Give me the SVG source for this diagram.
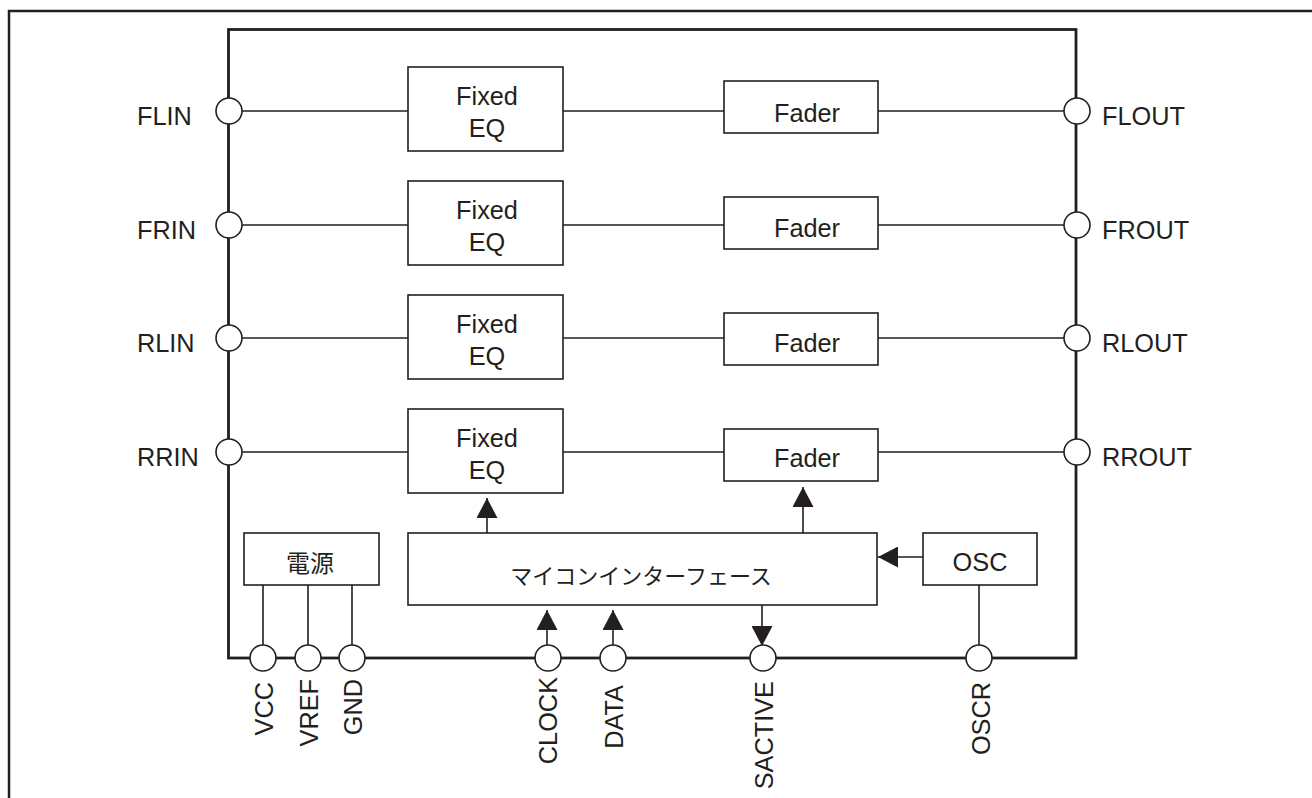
<svg xmlns="http://www.w3.org/2000/svg" width="1312" height="798" viewBox="0 0 1312 798">
<style>
.frame{fill:none;stroke:#231f20;stroke-width:2.5}
.chip{fill:none;stroke:#231f20;stroke-width:2.8}
.box{fill:#fff;stroke:#231f20;stroke-width:1.6}
.pin{fill:#fff;stroke:#231f20;stroke-width:1.6}
.wire{fill:none;stroke:#231f20;stroke-width:1.6}
.t{font-family:"Liberation Sans",Arial,sans-serif;font-size:25.3px;fill:#231f20}
.c{text-anchor:middle}
.e{text-anchor:end}
.j{font-family:"Noto Sans CJK JP","Noto Sans CJK SC",sans-serif;fill:#231f20;text-anchor:middle}
</style>
<defs>
<marker id="arr" viewBox="0 0 20 21" refX="20" refY="10.5" markerWidth="20" markerHeight="21" markerUnits="userSpaceOnUse" orient="auto">
<path d="M0,0 L20,10.5 L0,21 Z" fill="#231f20"/>
</marker>
</defs>
<rect width="1312" height="798" fill="#fff"/>
<path class="frame" d="M9,798 V11 H1312"/>
<g id="chip"><rect class="chip" x="228.5" y="29.5" width="847.5" height="628.5"/></g>

<g id="connectors">
<path class="wire" d="M229,111 H408 M563,111 H724 M878,111 H1077"/>
<path class="wire" d="M229,225 H408 M563,225 H724 M878,225 H1077"/>
<path class="wire" d="M229,338 H408 M563,338 H724 M878,338 H1077"/>
<path class="wire" d="M229,452 H408 M563,452 H724 M878,452 H1077"/>
<path class="wire" d="M263,585 V645 M308,585 V645 M352,585 V645 M979,585 V645"/>
<path class="wire" d="M487,533 V498" marker-end="url(#arr)"/>
<path class="wire" d="M803,533 V487" marker-end="url(#arr)"/>
<path class="wire" d="M923,557 H878" marker-end="url(#arr)"/>
<path class="wire" d="M547,645 V610" marker-end="url(#arr)"/>
<path class="wire" d="M613,645 V610" marker-end="url(#arr)"/>
<path class="wire" d="M762,605 V646" marker-end="url(#arr)"/>
</g>

<g id="eq1"><rect class="box" x="408" y="67" width="155" height="84"/><text class="t c" x="487" y="105">Fixed</text><text class="t c" x="487" y="137">EQ</text></g>
<g id="eq2"><rect class="box" x="408" y="181" width="155" height="84"/><text class="t c" x="487" y="219">Fixed</text><text class="t c" x="487" y="251">EQ</text></g>
<g id="eq3"><rect class="box" x="408" y="295" width="155" height="84"/><text class="t c" x="487" y="333">Fixed</text><text class="t c" x="487" y="365">EQ</text></g>
<g id="eq4"><rect class="box" x="408" y="409" width="155" height="84"/><text class="t c" x="487" y="447">Fixed</text><text class="t c" x="487" y="479">EQ</text></g>

<g id="fader1"><rect class="box" x="724" y="81" width="154" height="52"/><text class="t c" x="807" y="122">Fader</text></g>
<g id="fader2"><rect class="box" x="724" y="197" width="154" height="52"/><text class="t c" x="807" y="237">Fader</text></g>
<g id="fader3"><rect class="box" x="724" y="313" width="154" height="52"/><text class="t c" x="807" y="352">Fader</text></g>
<g id="fader4"><rect class="box" x="724" y="429" width="154" height="52"/><text class="t c" x="807" y="467">Fader</text></g>

<g id="power"><rect class="box" x="244" y="533" width="135" height="52"/><text class="j" x="310" y="572" font-size="24">電源</text></g>
<g id="mcu"><rect class="box" x="408" y="533" width="469" height="72"/><text class="j" x="641" y="584" font-size="22">マイコンインターフェース</text></g>
<g id="osc"><rect class="box" x="923" y="533" width="114" height="52"/><text class="t c" x="980" y="571">OSC</text></g>

<g id="pin-FLIN"><circle class="pin" cx="229" cy="111" r="13"/><text class="t" x="137" y="125">FLIN</text></g>
<g id="pin-FRIN"><circle class="pin" cx="229" cy="225" r="13"/><text class="t" x="137" y="239">FRIN</text></g>
<g id="pin-RLIN"><circle class="pin" cx="229" cy="338" r="13"/><text class="t" x="137" y="352">RLIN</text></g>
<g id="pin-RRIN"><circle class="pin" cx="229" cy="452" r="13"/><text class="t" x="137" y="466">RRIN</text></g>
<g id="pin-FLOUT"><circle class="pin" cx="1077" cy="111" r="13"/><text class="t" x="1102" y="125">FLOUT</text></g>
<g id="pin-FROUT"><circle class="pin" cx="1077" cy="225" r="13"/><text class="t" x="1102" y="239">FROUT</text></g>
<g id="pin-RLOUT"><circle class="pin" cx="1077" cy="338" r="13"/><text class="t" x="1102" y="352">RLOUT</text></g>
<g id="pin-RROUT"><circle class="pin" cx="1077" cy="452" r="13"/><text class="t" x="1102" y="466">RROUT</text></g>

<g id="pin-VCC"><circle class="pin" cx="263" cy="658" r="13"/><text class="t e" transform="translate(272.5,682) rotate(-90)">VCC</text></g>
<g id="pin-VREF"><circle class="pin" cx="308" cy="658" r="13"/><text class="t e" transform="translate(317.5,679) rotate(-90)">VREF</text></g>
<g id="pin-GND"><circle class="pin" cx="352" cy="658" r="13"/><text class="t e" transform="translate(361.5,679) rotate(-90)">GND</text></g>
<g id="pin-CLOCK"><circle class="pin" cx="548" cy="658" r="13"/><text class="t e" transform="translate(557,677) rotate(-90)">CLOCK</text></g>
<g id="pin-DATA"><circle class="pin" cx="613" cy="658" r="13"/><text class="t e" transform="translate(622.5,685) rotate(-90)">DATA</text></g>
<g id="pin-SACTIVE"><circle class="pin" cx="763" cy="658" r="13"/><text class="t e" transform="translate(773,681) rotate(-90)">SACTIVE</text></g>
<g id="pin-OSCR"><circle class="pin" cx="979" cy="658" r="13"/><text class="t e" transform="translate(989.5,682) rotate(-90)">OSCR</text></g>
</svg>
